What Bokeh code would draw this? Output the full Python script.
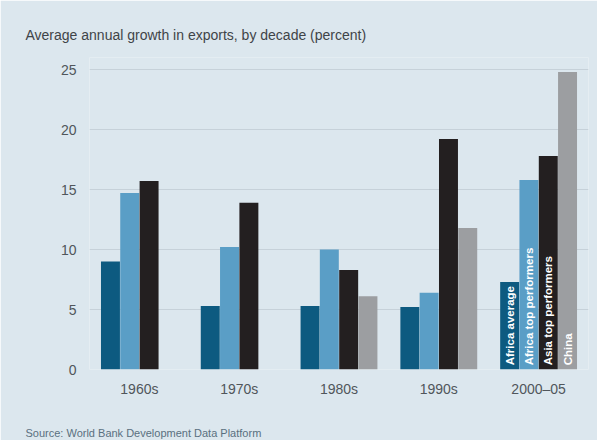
from bokeh.plotting import figure
from bokeh.models import ColumnDataSource, FactorRange, FixedTicker, Title
from bokeh.transform import dodge
from bokeh.core.properties import value
from bokeh.embed import file_html
from bokeh.resources import INLINE
import math

decades = ["1960s", "1970s", "1980s", "1990s", "2000–05"]
africa_average = [9.0, 5.3, 5.3, 5.2, 7.3]
africa_top = [14.7, 10.2, 10.0, 6.4, 15.8]
asia_top = [15.7, 13.9, 8.3, 19.2, 17.8]
china_decades = ["1980s", "1990s", "2000–05"]
china = [6.1, 11.8, 24.8]
series_names = ["Africa average", "Africa top performers", "Asia top performers", "China"]
y_ticks = [0, 5, 10, 15, 20, 25]

FONT_NAME = "Liberation Sans, Arial, sans-serif"
FONT = value(FONT_NAME)
BG = "#dce7ee"
TXT = "#50565b"
colors = ["#0d5a80", "#5a9ec6", "#231f20", "#9c9ea1"]
offsets = [-0.29, -0.097, 0.097, 0.29]
bw = 0.19

p = figure(width=597, height=440, x_range=FactorRange(*decades, range_padding=0),
           y_range=(0, 26), output_backend="svg", toolbar_location=None,
           min_border_left=89, min_border_right=9, min_border_top=57, min_border_bottom=71)
p.background_fill_color = BG
p.border_fill_color = BG
p.outline_line_color = None

main = ColumnDataSource(dict(decade=decades, a=africa_average, b=africa_top, c=asia_top))
csrc = ColumnDataSource(dict(decade=china_decades, d=china))

for col, off, c, src in [("a", offsets[0], colors[0], main), ("b", offsets[1], colors[1], main),
                         ("c", offsets[2], colors[2], main), ("d", offsets[3], colors[3], csrc)]:
    p.vbar(x=dodge("decade", off, range=p.x_range), top=col, width=bw, source=src,
           fill_color=c, line_color=None)

# in-bar labels for the last group
for i in range(4):
    s = ColumnDataSource(dict(decade=[decades[-1]], y=[0.35], text=[series_names[i]]))
    p.text(x=dodge("decade", offsets[i], range=p.x_range), y="y", text="text", source=s,
           angle=math.pi / 2, text_align="left", text_baseline="middle",
           text_color="white", text_font=FONT, text_font_size="11.5px", text_font_style="bold")

p.xgrid.grid_line_color = None
p.ygrid.grid_line_color = "#c6d1d9"
p.ygrid.grid_line_width = 1
p.yaxis.ticker = FixedTicker(ticks=y_ticks)

for ax in (p.xaxis, p.yaxis):
    ax.axis_line_color = None
    ax.major_tick_line_color = None
    ax.minor_tick_line_color = None
    ax.major_label_text_font = FONT_NAME
    ax.major_label_text_font_size = "14px"
    ax.major_label_text_color = TXT
p.yaxis.major_label_standoff = 7
p.xaxis.major_label_standoff = 5

p.title.text = "Average annual growth in exports, by decade (percent)"
p.title.text_font = FONT_NAME
p.title.text_font_size = "14px"
p.title.text_font_style = "normal"
p.title.text_color = "#3f4448"
p.title.align = "left"
p.title.offset = -64
p.title.standoff = 29

spacer = Title(text=" ", text_font_size="16px", standoff=4)
p.add_layout(spacer, "below")
src_t = Title(text="Source: World Bank Development Data Platform", align="left", offset=-64,
              standoff=4, text_font=FONT_NAME,
              text_font_size="11px", text_font_style="normal", text_color="#5a7080")
p.add_layout(src_t, "below")

open("out.html", "w").write(file_html(p, INLINE))
